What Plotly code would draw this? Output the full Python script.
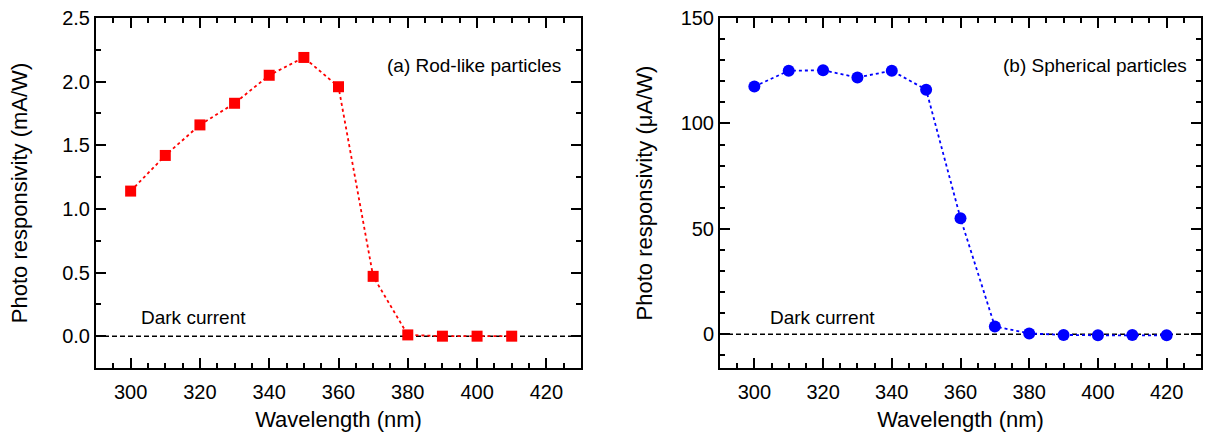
import plotly.graph_objects as go

wavelength_a = [300, 310, 320, 330, 340, 350, 360, 370, 380, 390, 400, 410]
resp_a = [1.14, 1.42, 1.66, 1.83, 2.05, 2.19, 1.96, 0.47, 0.01, 0.0, 0.0, 0.0]

wavelength_b = [300, 310, 320, 330, 340, 350, 360, 370, 380, 390, 400, 410, 420]
resp_b = [117.5, 125.0, 125.2, 121.8, 125.0, 116.0, 55.0, 3.7, 0.4, -0.3, -0.5, -0.4, -0.5]

x_title = "Wavelength (nm)"
y_title_a = "Photo responsivity (mA/W)"
y_title_b = "Photo responsivity (μA/W)"
label_a = "(a) Rod-like particles"
label_b = "(b) Spherical particles"
dark_label = "Dark current"

FONT = "Liberation Sans, Arial, sans-serif"
W, H = 1212, 435
TICK_SIZE = 20
TITLE_SIZE = 22
ANN_SIZE = 19

fig = go.Figure()
fig.add_trace(go.Scatter(
    x=wavelength_a, y=resp_a, mode="lines+markers",
    line=dict(color="#FF0000", width=1.8, dash="dot"),
    marker=dict(symbol="square", size=11, color="#FF0000"),
    xaxis="x", yaxis="y", showlegend=False))
fig.add_trace(go.Scatter(
    x=wavelength_b, y=resp_b, mode="lines+markers",
    line=dict(color="#0000FF", width=1.8, dash="dot"),
    marker=dict(symbol="circle", size=12, color="#0000FF"),
    xaxis="x2", yaxis="y2", showlegend=False))

def px_x(p):
    return p / W

def px_y(p):
    return 1 - p / H

minor_style = dict(ticks="inside", ticklen=5, tickwidth=1.5, tickcolor="black")
common_x = dict(
    range=[290, 430], tick0=300, dtick=20,
    ticks="inside", ticklen=10, tickwidth=1.5, tickcolor="black",
    minor=dict(minor_style, dtick=5),
    showline=True, linecolor="black", linewidth=2, mirror="allticks",
    showgrid=False, zeroline=False,
    tickfont=dict(family=FONT, size=TICK_SIZE, color="black"),
    ticklabelstandoff=5,
    title=dict(text=x_title, font=dict(family=FONT, size=TITLE_SIZE, color="black"), standoff=10),
    automargin=False,
)
common_y = dict(
    ticks="inside", ticklen=10, tickwidth=1.5, tickcolor="black",
    showline=True, linecolor="black", linewidth=2, mirror="allticks",
    showgrid=False, zeroline=False,
    tickfont=dict(family=FONT, size=TICK_SIZE, color="black"),
    automargin=False,
)

fig.update_layout(
    width=W, height=H,
    margin=dict(l=0, r=0, t=0, b=0),
    paper_bgcolor="white", plot_bgcolor="white",
    font=dict(family=FONT, color="black"),
    xaxis=dict(common_x, domain=[px_x(96), px_x(581)], anchor="y"),
    yaxis=dict(common_y, domain=[px_y(368), px_y(18)], anchor="x",
               range=[-0.25, 2.5], tick0=0, dtick=0.5, tickformat=".1f",
               minor=dict(minor_style, dtick=0.25),
               title=dict(text=y_title_a, font=dict(family=FONT, size=TITLE_SIZE, color="black"), standoff=28)),
    xaxis2=dict(common_x, domain=[px_x(720), px_x(1201)], anchor="y2"),
    yaxis2=dict(common_y, domain=[px_y(368), px_y(18)], anchor="x2",
                range=[-16, 150], tick0=0, dtick=50,
                minor=dict(minor_style, dtick=10),
                title=dict(text=y_title_b, font=dict(family=FONT, size=TITLE_SIZE, color="black"), standoff=22)),
)

for xr, yr in [("x", "y"), ("x2", "y2")]:
    fig.add_shape(type="line", xref=f"{xr} domain", yref=yr, x0=0, x1=1, y0=0, y1=0,
                  line=dict(color="black", width=1.5, dash="5px,3px"), layer="below")

fig.add_annotation(text=label_a, xref="x domain", yref="y domain", x=0.963, y=0.864,
                   xanchor="right", yanchor="middle", showarrow=False,
                   font=dict(family=FONT, size=ANN_SIZE, color="black"))
fig.add_annotation(text=label_b, xref="x2 domain", yref="y2 domain", x=0.975, y=0.864,
                   xanchor="right", yanchor="middle", showarrow=False,
                   font=dict(family=FONT, size=ANN_SIZE, color="black"))
fig.add_annotation(text=dark_label, xref="x", yref="y", x=302.5, y=0.15,
                   xanchor="left", yanchor="middle", showarrow=False,
                   font=dict(family=FONT, size=ANN_SIZE, color="black"))
fig.add_annotation(text=dark_label, xref="x2", yref="y2", x=304, y=8,
                   xanchor="left", yanchor="middle", showarrow=False,
                   font=dict(family=FONT, size=ANN_SIZE, color="black"))

fig.write_html("out.html", config=dict(displayModeBar=False),
               post_script="document.body.style.margin='0px';")
